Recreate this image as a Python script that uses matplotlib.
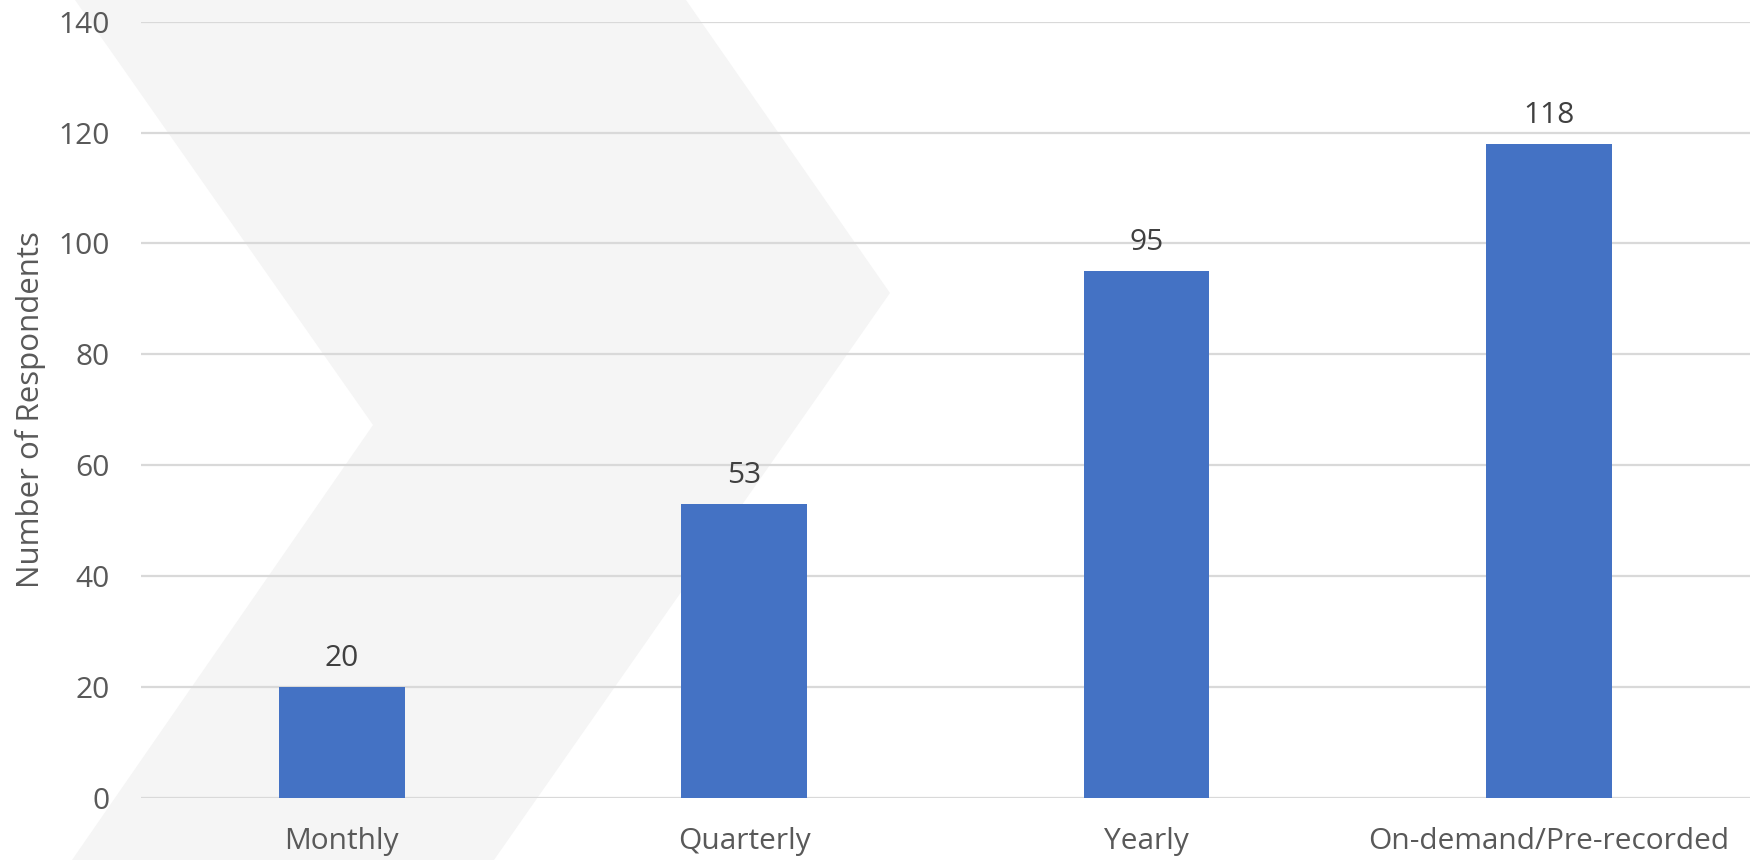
import matplotlib
matplotlib.use("Agg")
import matplotlib.pyplot as plt
from matplotlib.patches import Polygon

categories = ["Monthly", "Quarterly", "Yearly", "On-demand/Pre-recorded"]
respondents = [20, 53, 95, 118]
y_ticks = [0, 20, 40, 60, 80, 100, 120, 140]

W, H = 1756, 860
fig = plt.figure(figsize=(W / 100, H / 100), dpi=100)
fig.patch.set_facecolor("white")

plt.rcParams["font.family"] = ["Open Sans", "DejaVu Sans"]

# light chevron decoration in the background (figure pixel coordinates)
chev = [(75, 0), (686, 0), (890, 293), (494, 860), (72, 860), (373, 425)]
chev_fig = [(x / W, 1 - y / H) for x, y in chev]
fig.patches.append(Polygon(chev_fig, closed=True, transform=fig.transFigure,
                           facecolor="#f5f5f5", edgecolor="none", zorder=0))

ax = fig.add_axes([140.6 / W, 1 - 797.7 / H, (1750 - 140.6) / W, (797.7 - 21.7) / H])
ax.set_facecolor("none")
ax.set_zorder(1)

x = range(len(categories))
bars = ax.bar(x, respondents, width=0.313, color="#4472C4", zorder=3)

for xi, v in zip(x, respondents):
    ax.annotate(str(v), (xi, v), xytext=(0, 10), textcoords="offset points",
                ha="center", va="bottom", fontsize=21.5, color="#404040")

ax.set_xlim(-0.5, len(categories) - 0.5)
ax.set_ylim(0, 140)
ax.set_yticks(y_ticks)
ax.set_xticks(list(x))
ax.set_xticklabels(categories)
ax.yaxis.grid(True, color="#d9d9d9", linewidth=1.6, zorder=0)
ax.set_axisbelow(True)
for s in ax.spines.values():
    s.set_visible(False)
ax.tick_params(axis="both", length=0, labelsize=21.5, labelcolor="#595959")
ax.tick_params(axis="y", pad=22)
ax.tick_params(axis="x", pad=21)
ax.set_ylabel("Number of Respondents", fontsize=22.5, color="#595959", labelpad=9)

fig.savefig("out.png", dpi=100, facecolor="white")
